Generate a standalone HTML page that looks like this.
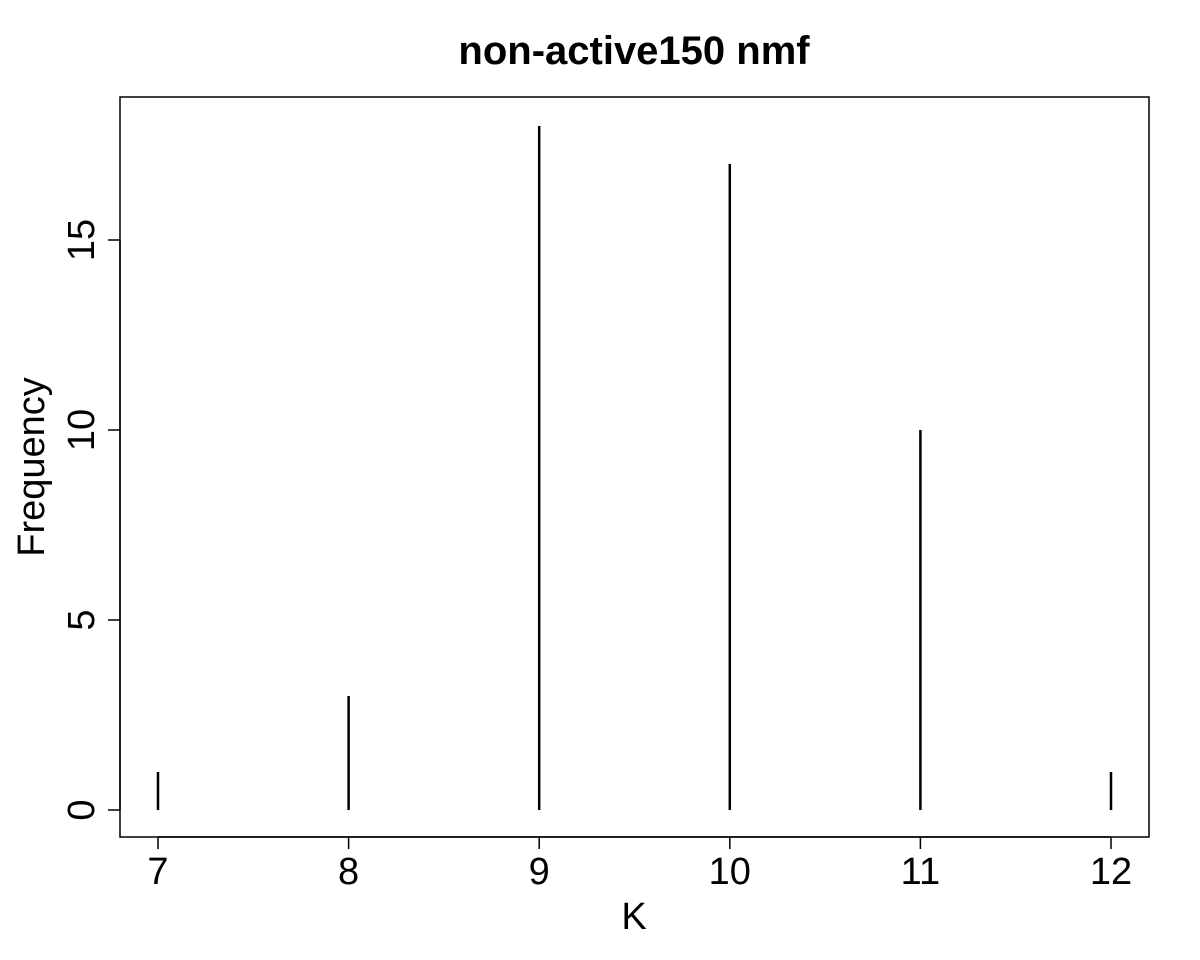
<!DOCTYPE html>
<html><head><meta charset="utf-8"><style>body{margin:0;background:#fff}svg{display:block}text{font-family:"Liberation Sans",sans-serif;fill:#000}</style></head>
<body>
<svg id="chart" width="1200" height="960" xmlns="http://www.w3.org/2000/svg">
<text x="634" y="64" font-size="40" font-weight="bold" text-anchor="middle">non-active150 nmf</text>
<rect x="120" y="97" width="1029" height="740" fill="none" stroke="#000" stroke-width="1.5"/>
<g id="xaxis"></g>
<g id="yaxis"></g>
<g id="bars"></g>
<text x="634" y="929" font-size="38" text-anchor="middle">K</text>
<text x="0" y="0" font-size="38" text-anchor="middle" transform="translate(44,467) rotate(-90)">Frequency</text>
</svg>
<script>
const categories=[7,8,9,10,11,12];
const counts=[1,3,18,17,10,1];
const xTicks=[7,8,9,10,11,12];
const yTicks=[0,5,10,15];
const NS="http://www.w3.org/2000/svg";
function xs(v){return 158+(v-7)*(1111-158)/5;}
function ys(v){return 810-v*38;}
function mk(t,a,p){const e=document.createElementNS(NS,t);for(const k in a)e.setAttribute(k,a[k]);p.appendChild(e);return e;}
const xa=document.getElementById('xaxis'),ya=document.getElementById('yaxis'),bg=document.getElementById('bars');
mk('line',{x1:xs(xTicks[0]),x2:xs(xTicks[xTicks.length-1]),y1:837,y2:837,stroke:'#000','stroke-width':1.5},xa);
xTicks.forEach(v=>{
 const l=mk('line',{x1:xs(v),x2:xs(v),y1:837,y2:849,stroke:'#000','stroke-width':1.5},xa);
 
 
 const t=mk('text',{x:xs(v),y:884,'font-size':38,'text-anchor':'middle'},xa);t.textContent=v;
 
 
});
mk('line',{x1:120,x2:120,y1:ys(yTicks[0]),y2:ys(yTicks[yTicks.length-1]),stroke:'#000','stroke-width':1.5},ya);
yTicks.forEach(v=>{
 const l=mk('line',{x1:108,x2:120,y1:ys(v),y2:ys(v),stroke:'#000','stroke-width':1.5},ya);
 
 
 const t=mk('text',{x:0,y:0,'font-size':38,'text-anchor':'middle',transform:`translate(94,${ys(v)}) rotate(-90)`},ya);t.textContent=v;
 
 
});
categories.forEach((c,i)=>{
 const l=mk('line',{x1:xs(c),x2:xs(c),y1:ys(0),y2:ys(counts[i]),stroke:'#000','stroke-width':2.5},bg);
 
 
});
</script>
</body></html>
